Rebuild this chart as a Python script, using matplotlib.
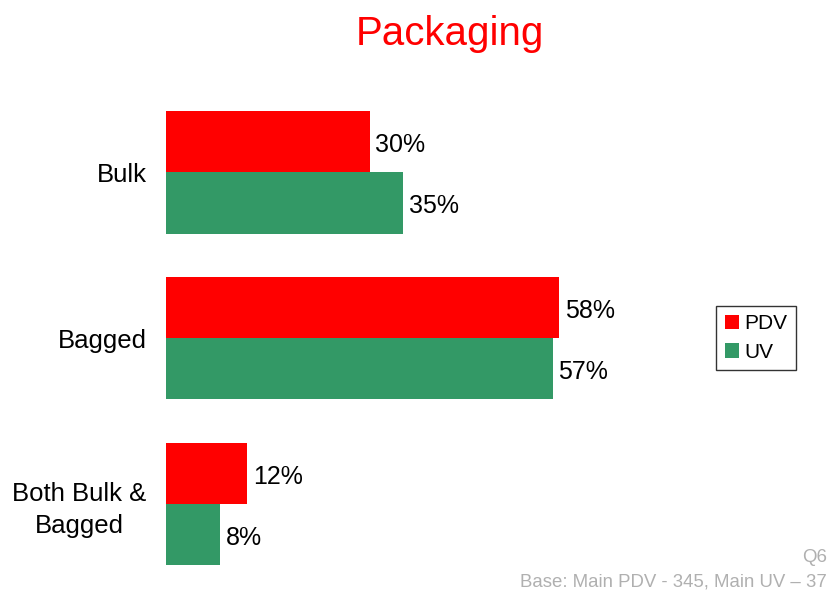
import numpy as np
import matplotlib.pyplot as plt

plt.rcParams['font.family'] = ['Liberation Sans', 'DejaVu Sans']

categories = ["Bulk", "Bagged", "Both Bulk &\nBagged"]
pdv = [30, 58, 12]
uv = [35, 57, 8]
series_names = ["PDV", "UV"]
colors = ["#ff0000", "#339966"]

fig = plt.figure(figsize=(8.3, 5.91), dpi=100)
ax = fig.add_axes([0.2, 0.0085, 0.64, 0.839])

y = np.arange(len(categories))
h = 0.37
b1 = ax.barh(y - h / 2, pdv, height=h, color=colors[0], label=series_names[0])
b2 = ax.barh(y + h / 2, uv, height=h, color=colors[1], label=series_names[1])

# étiquettes de valeur au bout des barres
for bars, vals in [(b1, pdv), (b2, uv)]:
    for bar, v in zip(bars, vals):
        ax.annotate(f"{v}%", (bar.get_width(), bar.get_y() + bar.get_height() / 2),
                    xytext=(4, -2.5), textcoords="offset points",
                    va="center", ha="left", fontsize=18)

ax.set_xlim(0, 78.3)
ax.set_ylim(2.494, -0.494)
ax.set_yticks(y)
ax.set_yticklabels(categories, fontsize=18.5, linespacing=1.4, multialignment="center")
ax.tick_params(axis="y", length=0, pad=14)
ax.set_xticks([])
for s in ax.spines.values():
    s.set_visible(False)

fig.text(450 / 830, 1 - 34 / 591, "Packaging", color="#ff0000", fontsize=29,
         ha="center", va="center")

leg = fig.legend(handles=[b1, b2], loc="center", bbox_to_anchor=(756 / 830, 1 - 338 / 591),
                 fontsize=15, frameon=True, fancybox=False, edgecolor="black",
                 handlelength=0.7, handleheight=0.7, handletextpad=0.25,
                 borderpad=0.4, labelspacing=0.45, borderaxespad=0)
leg.get_frame().set_linewidth(1)

fig.text(827 / 830, 1 - 558 / 591, "Q6", color="#b0b0b0", fontsize=13.4, ha="right", va="center")
fig.text(827 / 830, 1 - 582 / 591, "Base: Main PDV - 345, Main UV \u2013 37", color="#b0b0b0",
         fontsize=13.4, ha="right", va="center")

fig.savefig("out.png", dpi=100)
